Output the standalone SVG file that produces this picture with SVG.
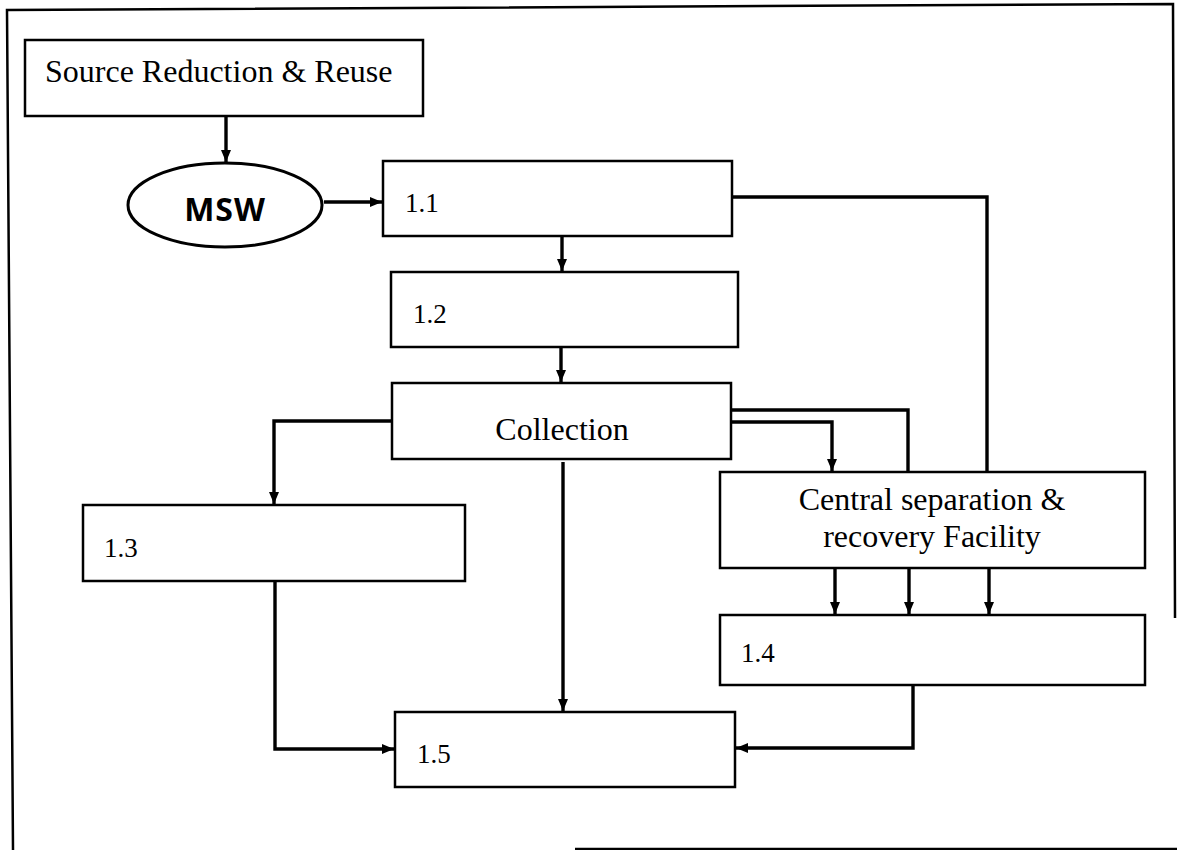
<svg xmlns="http://www.w3.org/2000/svg" width="1177" height="850" viewBox="0 0 1177 850">
<style>
.box{fill:#fff;stroke:#000;stroke-width:2.5}
.lbl{font-family:"Liberation Serif","Times New Roman",serif;fill:#000}
.num{font-size:27px}
.con{fill:none;stroke:#000;stroke-width:3.4;stroke-linejoin:miter}
.frame{fill:none;stroke:#000;stroke-width:2.5}
</style>
<defs>
<marker id="ah" viewBox="0 0 12 10" refX="12" refY="5" markerWidth="12" markerHeight="10" orient="auto" markerUnits="userSpaceOnUse">
<path d="M0,0 L12,5 L0,10 z" fill="#000"/>
</marker>
</defs>
<rect width="1177" height="850" fill="#fff"/>
<g id="frame">
<polyline class="frame" points="13,850 7,10 1173,4 1175,618"/>
<line class="frame" x1="575" y1="849" x2="1177" y2="849"/>
</g>
<g id="connectors">
<line class="con" x1="226" y1="116" x2="226" y2="162" marker-end="url(#ah)"/>
<line class="con" x1="324" y1="202" x2="382" y2="202" marker-end="url(#ah)"/>
<polyline class="con" points="732,197 987,197 987,472"/>
<line class="con" x1="562" y1="236" x2="562" y2="271" marker-end="url(#ah)"/>
<line class="con" x1="561" y1="347" x2="561" y2="382" marker-end="url(#ah)"/>
<polyline class="con" points="392,421 274,421 274,504" marker-end="url(#ah)"/>
<line class="con" x1="563" y1="462" x2="563" y2="711" marker-end="url(#ah)"/>
<polyline class="con" points="731,410 908,410 908,472"/>
<polyline class="con" points="731,422 832,422 832,471" marker-end="url(#ah)"/>
<line class="con" x1="835" y1="568" x2="835" y2="614" marker-end="url(#ah)"/>
<line class="con" x1="909" y1="568" x2="909" y2="614" marker-end="url(#ah)"/>
<line class="con" x1="989" y1="568" x2="989" y2="614" marker-end="url(#ah)"/>
<polyline class="con" points="275,581 275,749 394,749" marker-end="url(#ah)"/>
<polyline class="con" points="913,685 913,748 736,748" marker-end="url(#ah)"/>
</g>
<g id="source">
<rect class="box" x="25" y="40" width="398" height="76"/>
<text class="lbl" x="45" y="82" font-size="32">Source Reduction &amp; Reuse</text>
</g>
<g id="msw">
<ellipse cx="225" cy="205" rx="97" ry="42" fill="#fff" stroke="#000" stroke-width="3"/>
<text x="225" y="221" text-anchor="middle" font-family="'Open Sans','Liberation Sans',sans-serif" font-weight="bold" font-size="32" letter-spacing="1">MSW</text>
</g>
<g id="n11">
<rect class="box" x="383" y="161" width="349" height="75"/>
<text class="lbl num" x="405" y="212">1.1</text>
</g>
<g id="n12">
<rect class="box" x="391" y="272" width="347" height="75"/>
<text class="lbl num" x="413" y="323">1.2</text>
</g>
<g id="collection">
<rect class="box" x="392" y="383" width="339" height="76"/>
<text class="lbl" x="562" y="440" font-size="32" text-anchor="middle">Collection</text>
</g>
<g id="n13">
<rect class="box" x="83" y="505" width="382" height="76"/>
<text class="lbl num" x="104" y="557">1.3</text>
</g>
<g id="central">
<rect class="box" x="720" y="472" width="425" height="96"/>
<text class="lbl" x="932" y="510" font-size="32" text-anchor="middle">Central separation &amp;</text>
<text class="lbl" x="932" y="547" font-size="32" text-anchor="middle">recovery Facility</text>
</g>
<g id="n14">
<rect class="box" x="720" y="615" width="425" height="70"/>
<text class="lbl num" x="741" y="662">1.4</text>
</g>
<g id="n15">
<rect class="box" x="395" y="712" width="340" height="75"/>
<text class="lbl num" x="417" y="763">1.5</text>
</g>
</svg>
